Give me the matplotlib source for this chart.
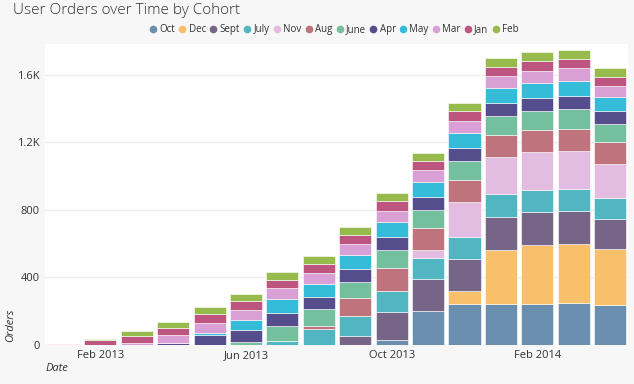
import numpy as np
import matplotlib.pyplot as plt
from matplotlib.lines import Line2D

plt.rcParams['font.family'] = ['Open Sans', 'DejaVu Sans']

# months Jan 2013 .. Apr 2014
months = ['Jan 2013', 'Feb 2013', 'Mar 2013', 'Apr 2013', 'May 2013', 'Jun 2013',
          'Jul 2013', 'Aug 2013', 'Sep 2013', 'Oct 2013', 'Nov 2013', 'Dec 2013',
          'Jan 2014', 'Feb 2014', 'Mar 2014', 'Apr 2014']

# orders per signup cohort (stacking order bottom -> top)
oct_ = [0, 0, 0, 0, 0, 0, 0, 0, 0, 28, 202, 242, 240, 244, 246, 238]
dec = [0, 0, 0, 0, 0, 0, 0, 0, 0, 0, 0, 75, 325, 347, 350, 331]
sept = [0, 0, 0, 0, 0, 0, 0, 0, 53, 168, 186, 192, 192, 196, 198, 176]
july = [0, 0, 0, 0, 0, 0, 22, 93, 117, 125, 125, 129, 135, 129, 131, 123]
nov = [0, 0, 0, 0, 0, 0, 0, 0, 0, 0, 50, 208, 222, 224, 222, 206]
aug = [0, 0, 0, 0, 0, 0, 0, 18, 109, 133, 129, 133, 131, 133, 133, 129]
june = [0, 0, 0, 0, 0, 16, 91, 101, 95, 109, 107, 111, 109, 111, 115, 103]
apr = [0, 0, 0, 12, 57, 71, 77, 73, 77, 79, 79, 79, 77, 79, 79, 77]
may = [0, 0, 0, 0, 14, 59, 79, 73, 79, 85, 85, 85, 89, 89, 91, 83]
mar = [0, 0, 10, 46, 57, 63, 65, 69, 67, 69, 73, 73, 73, 73, 73, 69]
jan = [7, 27, 40, 44, 55, 50, 53, 50, 55, 55, 53, 57, 55, 57, 57, 55]
feb = [0, 10, 34, 34, 40, 45, 45, 50, 45, 51, 50, 50, 51, 51, 50, 48]

cohorts = ['Oct', 'Dec', 'Sept', 'July', 'Nov', 'Aug', 'June', 'Apr', 'May', 'Mar', 'Jan', 'Feb']
series = [oct_, dec, sept, july, nov, aug, june, apr, may, mar, jan, feb]
colors = ['#6a8fae', '#f8c06a', '#766587', '#51b5c2', '#e3bde1', '#bf737c',
          '#73bf9e', '#564d8d', '#34bcd8', '#d9a0d6', '#be5580', '#96bb4c']

tick_idx = [1, 5, 9, 13]

fig = plt.figure(figsize=(6.34, 3.84), dpi=100, facecolor='#f7f7f7')
ax = fig.add_axes([0.071, 0.102, 0.9195, 0.783])
ax.set_facecolor('white')

x = np.arange(len(months))
bottom = np.zeros(len(months))
for name, vals, c in zip(cohorts, series, colors):
    vals = np.array(vals, dtype=float)
    ax.bar(x, vals, width=0.88, bottom=bottom, color=c, edgecolor='white',
           linewidth=0.4, zorder=3)
    bottom += vals

ax.set_xlim(-0.52, 15.49)
ax.set_ylim(0, 1782)
ax.set_yticks([0, 400, 800, 1200, 1600])
ax.set_yticklabels(['0', '400', '800', '1.2K', '1.6K'])
ax.set_xticks(tick_idx)
ax.set_xticklabels([months[i] for i in tick_idx])
ax.tick_params(length=0, labelsize=8, colors='#333333', pad=4)
ax.grid(axis='y', color='#eeeeee', linewidth=1, zorder=0)
for s in ax.spines.values():
    s.set_visible(False)

fig.text(0.02, 0.973, 'User Orders over Time by Cohort', fontsize=11,
         color='#333333', va='center', ha='left', fontweight='light')
fig.text(0.072, 0.04, 'Date', fontsize=8, style='italic', color='#333333',
         ha='left', va='center')
fig.text(0.017, 0.11, 'Orders', fontsize=8, style='italic', color='#333333',
         rotation=90, ha='center', va='bottom')

handles = [Line2D([], [], marker='o', linestyle='', color=c, markersize=4.5)
           for c in colors]
fig.legend(handles, cohorts, loc='center right', bbox_to_anchor=(0.818, 0.922),
           ncol=len(cohorts), frameon=False, fontsize=7, handletextpad=0.35,
           columnspacing=0.45, handlelength=0.6, borderpad=0, borderaxespad=0,
           labelcolor='#333333')

fig.savefig('out.png', dpi=100, facecolor=fig.get_facecolor())
